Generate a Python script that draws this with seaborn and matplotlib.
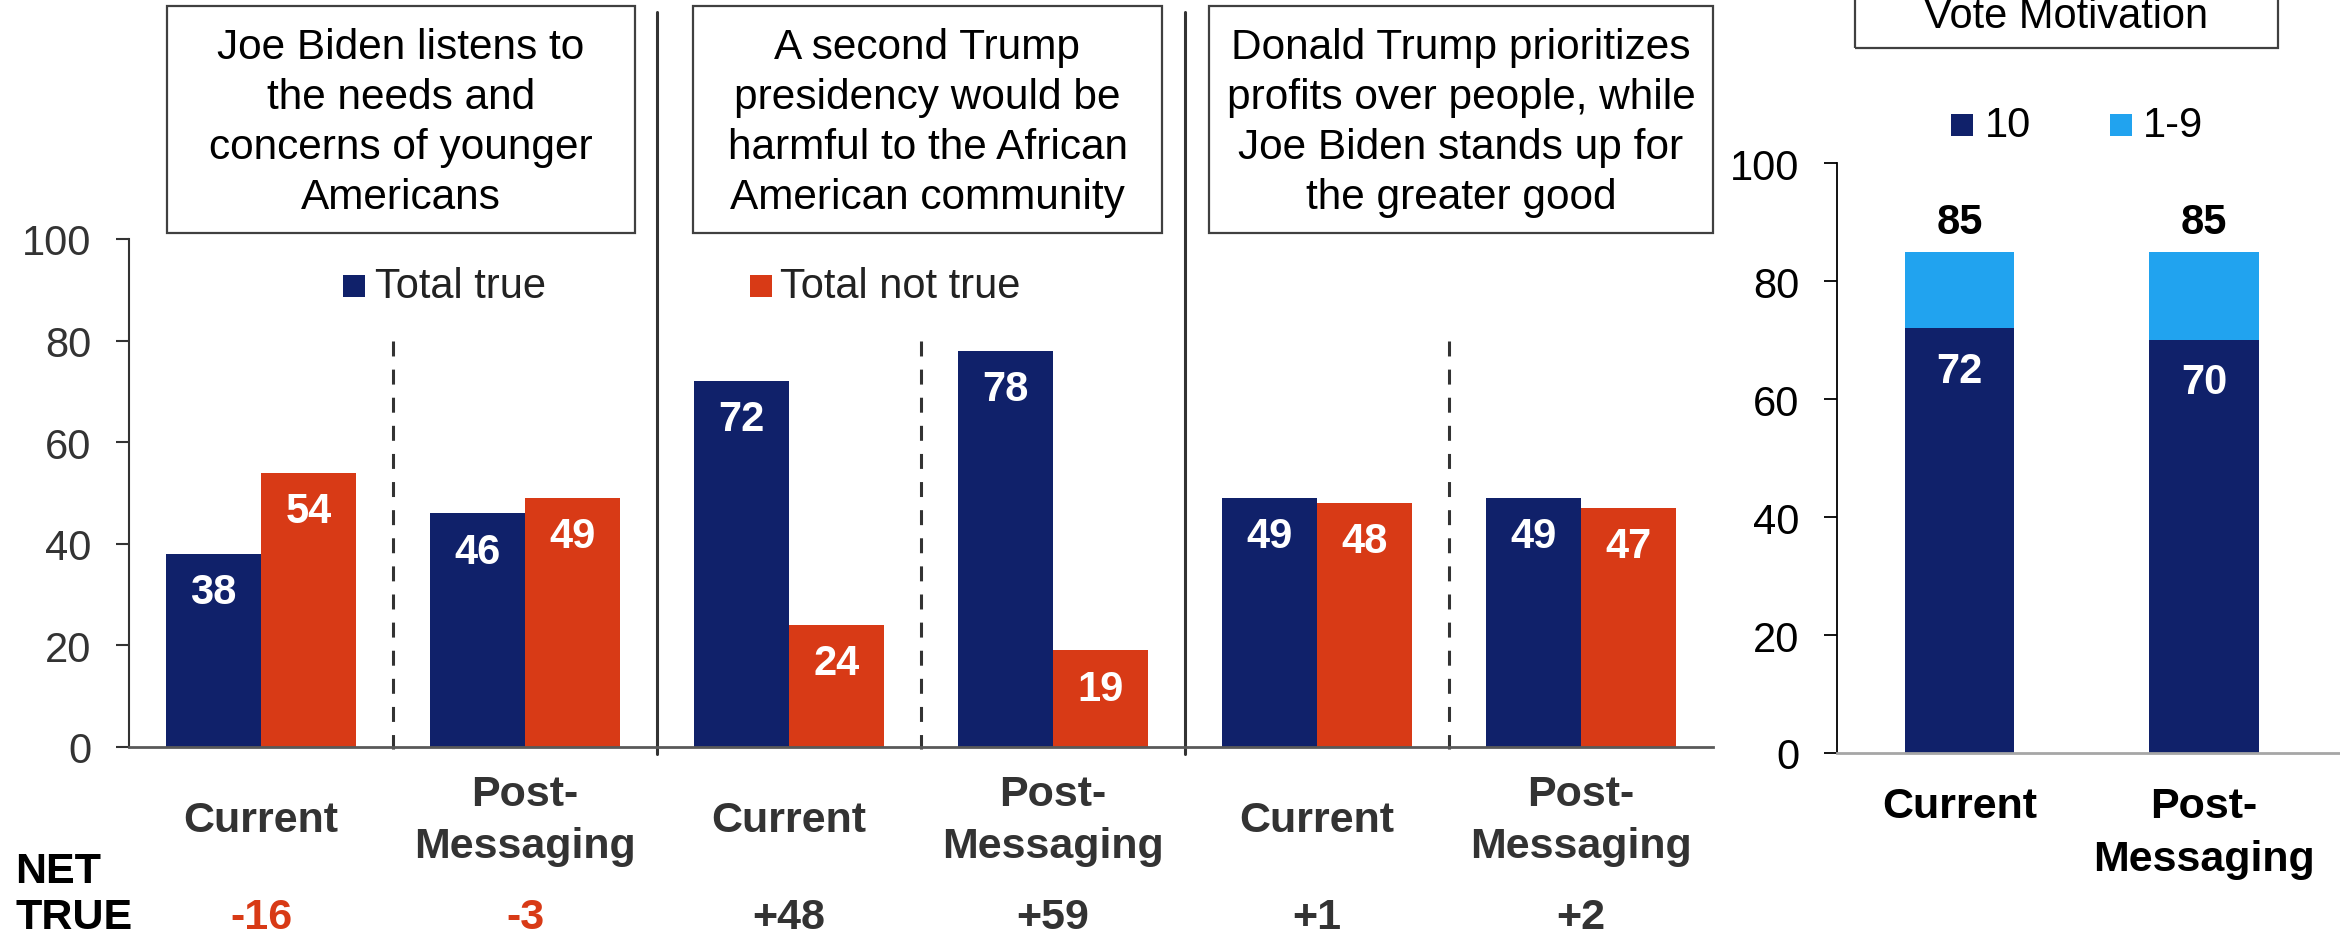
import numpy as np
import pandas as pd
import matplotlib
matplotlib.use("Agg")
import matplotlib.pyplot as plt
import matplotlib.transforms as mtransforms
from matplotlib.patches import Rectangle
from matplotlib.lines import Line2D
import seaborn as sns

# ---- data -------------------------------------------------------------
statements = [
    "Joe Biden listens to\nthe needs and\nconcerns of younger\nAmericans",
    "A second Trump\npresidency would be\nharmful to the African\nAmerican community",
    "Donald Trump prioritizes\nprofits over people, while\nJoe Biden stands up for\nthe greater good",
]
waves = ["Current", "Post-\nMessaging"]
total_true = [38, 46, 72, 78, 49, 49]
total_not_true = [54, 49, 24, 19, 48, 47]

motivation_waves = ["Current", "Post-\nMessaging"]
motivation_10 = [72, 70]
motivation_1_to_10 = [85, 85]

NAVY = "#10216A"
RED = "#D83A16"
SKY = "#21A3EF"
DARK = "#333333"

sns.set_theme(style="ticks")
plt.rcParams["font.family"] = ["Liberation Sans", "DejaVu Sans"]

W, H = 2340, 937
fig = plt.figure(figsize=(W / 100, H / 100), dpi=100)


def fx(px):
    return px / W


def fy(py):
    return 1 - py / H


ax = fig.add_axes([fx(129), fy(748), fx(1713) - fx(129), fy(240) - fy(748)])
ax2 = fig.add_axes([fx(1837), fy(754), 1 - fx(1837), fy(164) - fy(754)])

# ---- left panel: true / not true ---------------------------------------
n = len(total_true)
slots = list(range(n))
df = pd.DataFrame({
    "slot": slots * 2,
    "share": total_true + total_not_true,
    "measure": ["Total true"] * n + ["Total not true"] * n,
})
sns.barplot(data=df, x="slot", y="share", hue="measure",
            hue_order=["Total true", "Total not true"],
            palette=[NAVY, RED], width=0.72, saturation=1, errorbar=None,
            linewidth=0, legend=False, ax=ax)

for cont in ax.containers:
    for bar in cont:
        h = bar.get_height()
        ax.annotate(f"{h:.0f}", (bar.get_x() + bar.get_width() / 2, h),
                    xytext=(0, -27.5), textcoords="offset points",
                    ha="center", va="center", color="white",
                    fontsize=30, fontweight="bold")

ax.set_xlim(-0.5, 5.5)
ax.set_ylim(0, 100)
ax.set_yticks(range(0, 101, 20))
ax.set_xticks(slots)
ax.set_xticklabels(waves * 3, fontsize=31, fontweight="bold", color=DARK,
                   va="center", linespacing=1.41)
ax.tick_params(axis="x", length=0, pad=52.6)
ax.tick_params(axis="y", length=9.4, width=1.5, color=DARK, labelsize=30,
               labelcolor=DARK, pad=17.6)
ax.set_xlabel("")
ax.set_ylabel("")
sns.despine(ax=ax)
ax.spines["left"].set_color(DARK)
ax.spines["left"].set_linewidth(1.5)
ax.spines["bottom"].set_color("#595959")
ax.spines["bottom"].set_linewidth(2)

# separators between statements and between waves
trans = mtransforms.blended_transform_factory(ax.transData, ax.transAxes)
for xv in [1.5, 3.5]:
    ax.add_line(Line2D([xv, xv], [-0.014, 1.447], transform=trans,
                       color=DARK, lw=2.2, clip_on=False))
for xv in [0.5, 2.5, 4.5]:
    ax.plot([xv, xv], [80, -0.4], color=DARK, lw=2.2,
            ls=(0, (4.9, 4.3)), clip_on=False)

# statement boxes
boxes = [(167, 635), (693, 1162), (1209, 1713)]
for (x0, x1), text in zip(boxes, statements):
    fig.add_artist(Rectangle((fx(x0), fy(234)), fx(x1) - fx(x0), fy(7) - fy(234),
                             transform=fig.transFigure, fill=False,
                             ec="#404040", lw=1.6))
    fig.text(fx((x0 + x1) / 2), fy(123), text, ha="center", va="center",
             fontsize=30.5, linespacing=1.32, color="black")

# legend
for (mx, tx), color, label in [((343, 375), NAVY, "Total true"),
                               ((750, 780), RED, "Total not true")]:
    fig.add_artist(Rectangle((fx(mx), fy(298)), fx(22), fy(276) - fy(298),
                             transform=fig.transFigure, color=color, lw=0))
    fig.text(fx(tx), fy(287), label, ha="left", va="center",
             fontsize=30, color="#222222")

# net true row
fig.text(fx(15), fy(872), "NET", ha="left", va="center", fontsize=31,
         fontweight="bold", color="black")
fig.text(fx(15), fy(918), "TRUE", ha="left", va="center", fontsize=31,
         fontweight="bold", color="black")
net_trans = mtransforms.blended_transform_factory(ax.transData, fig.transFigure)
for i, (t, nt) in enumerate(zip(total_true, total_not_true)):
    net = t - nt
    ax.text(i, fy(918), f"{net:+d}", transform=net_trans, ha="center",
            va="center", fontsize=31, fontweight="bold",
            color=RED if net < 0 else DARK)

# ---- right panel: vote motivation ---------------------------------------
df2 = pd.DataFrame({"wave": motivation_waves,
                    "any": motivation_1_to_10,
                    "ten": motivation_10})
sns.barplot(data=df2, x="wave", y="any", color=SKY, width=0.446,
            saturation=1, errorbar=None, linewidth=0, ax=ax2)
sns.barplot(data=df2, x="wave", y="ten", color=NAVY, width=0.446,
            saturation=1, errorbar=None, linewidth=0, ax=ax2)

for bar in ax2.containers[0]:
    h = bar.get_height()
    ax2.annotate(f"{h:.0f}", (bar.get_x() + bar.get_width() / 2, h),
                 xytext=(0, 21.5), textcoords="offset points",
                 ha="center", va="center", color="black",
                 fontsize=30, fontweight="bold")
for bar in ax2.containers[1]:
    h = bar.get_height()
    ax2.annotate(f"{h:.0f}", (bar.get_x() + bar.get_width() / 2, h),
                 xytext=(0, -30.5), textcoords="offset points",
                 ha="center", va="center", color="white",
                 fontsize=30, fontweight="bold")

ax2.set_xlim(-0.5, 1.556)
ax2.set_ylim(0, 100)
ax2.set_yticks(range(0, 101, 20))
ax2.set_xticks([0, 1])
ax2.set_xticklabels(motivation_waves, fontsize=31, fontweight="bold",
                    color="black", linespacing=1.41)
ax2.tick_params(axis="x", length=0, pad=23.8)
ax2.tick_params(axis="y", length=9.4, width=1.3, color="black", labelsize=30,
                labelcolor="black", pad=17.6)
ax2.set_xlabel("")
ax2.set_ylabel("")
sns.despine(ax=ax2)
ax2.spines["left"].set_color("black")
ax2.spines["left"].set_linewidth(1.3)
ax2.spines["bottom"].set_color("#A6A6A6")
ax2.spines["bottom"].set_linewidth(2)

fig.add_artist(Rectangle((fx(1855), fy(49)), fx(2278) - fx(1855), fy(-30) - fy(49),
                         transform=fig.transFigure, fill=False,
                         ec="#404040", lw=1.6))
fig.text(fx(2066), fy(17), "Vote Motivation", ha="center", va="center",
         fontsize=30, color="black")

for (mx, tx), color, label in [((1951, 1985), NAVY, "10"),
                               ((2110, 2143), SKY, "1-9")]:
    fig.add_artist(Rectangle((fx(mx), fy(137)), fx(22), fy(115) - fy(137),
                             transform=fig.transFigure, color=color, lw=0))
    fig.text(fx(tx), fy(126), label, ha="left", va="center",
             fontsize=30, color="black")

fig.savefig("out.png", dpi=100)
